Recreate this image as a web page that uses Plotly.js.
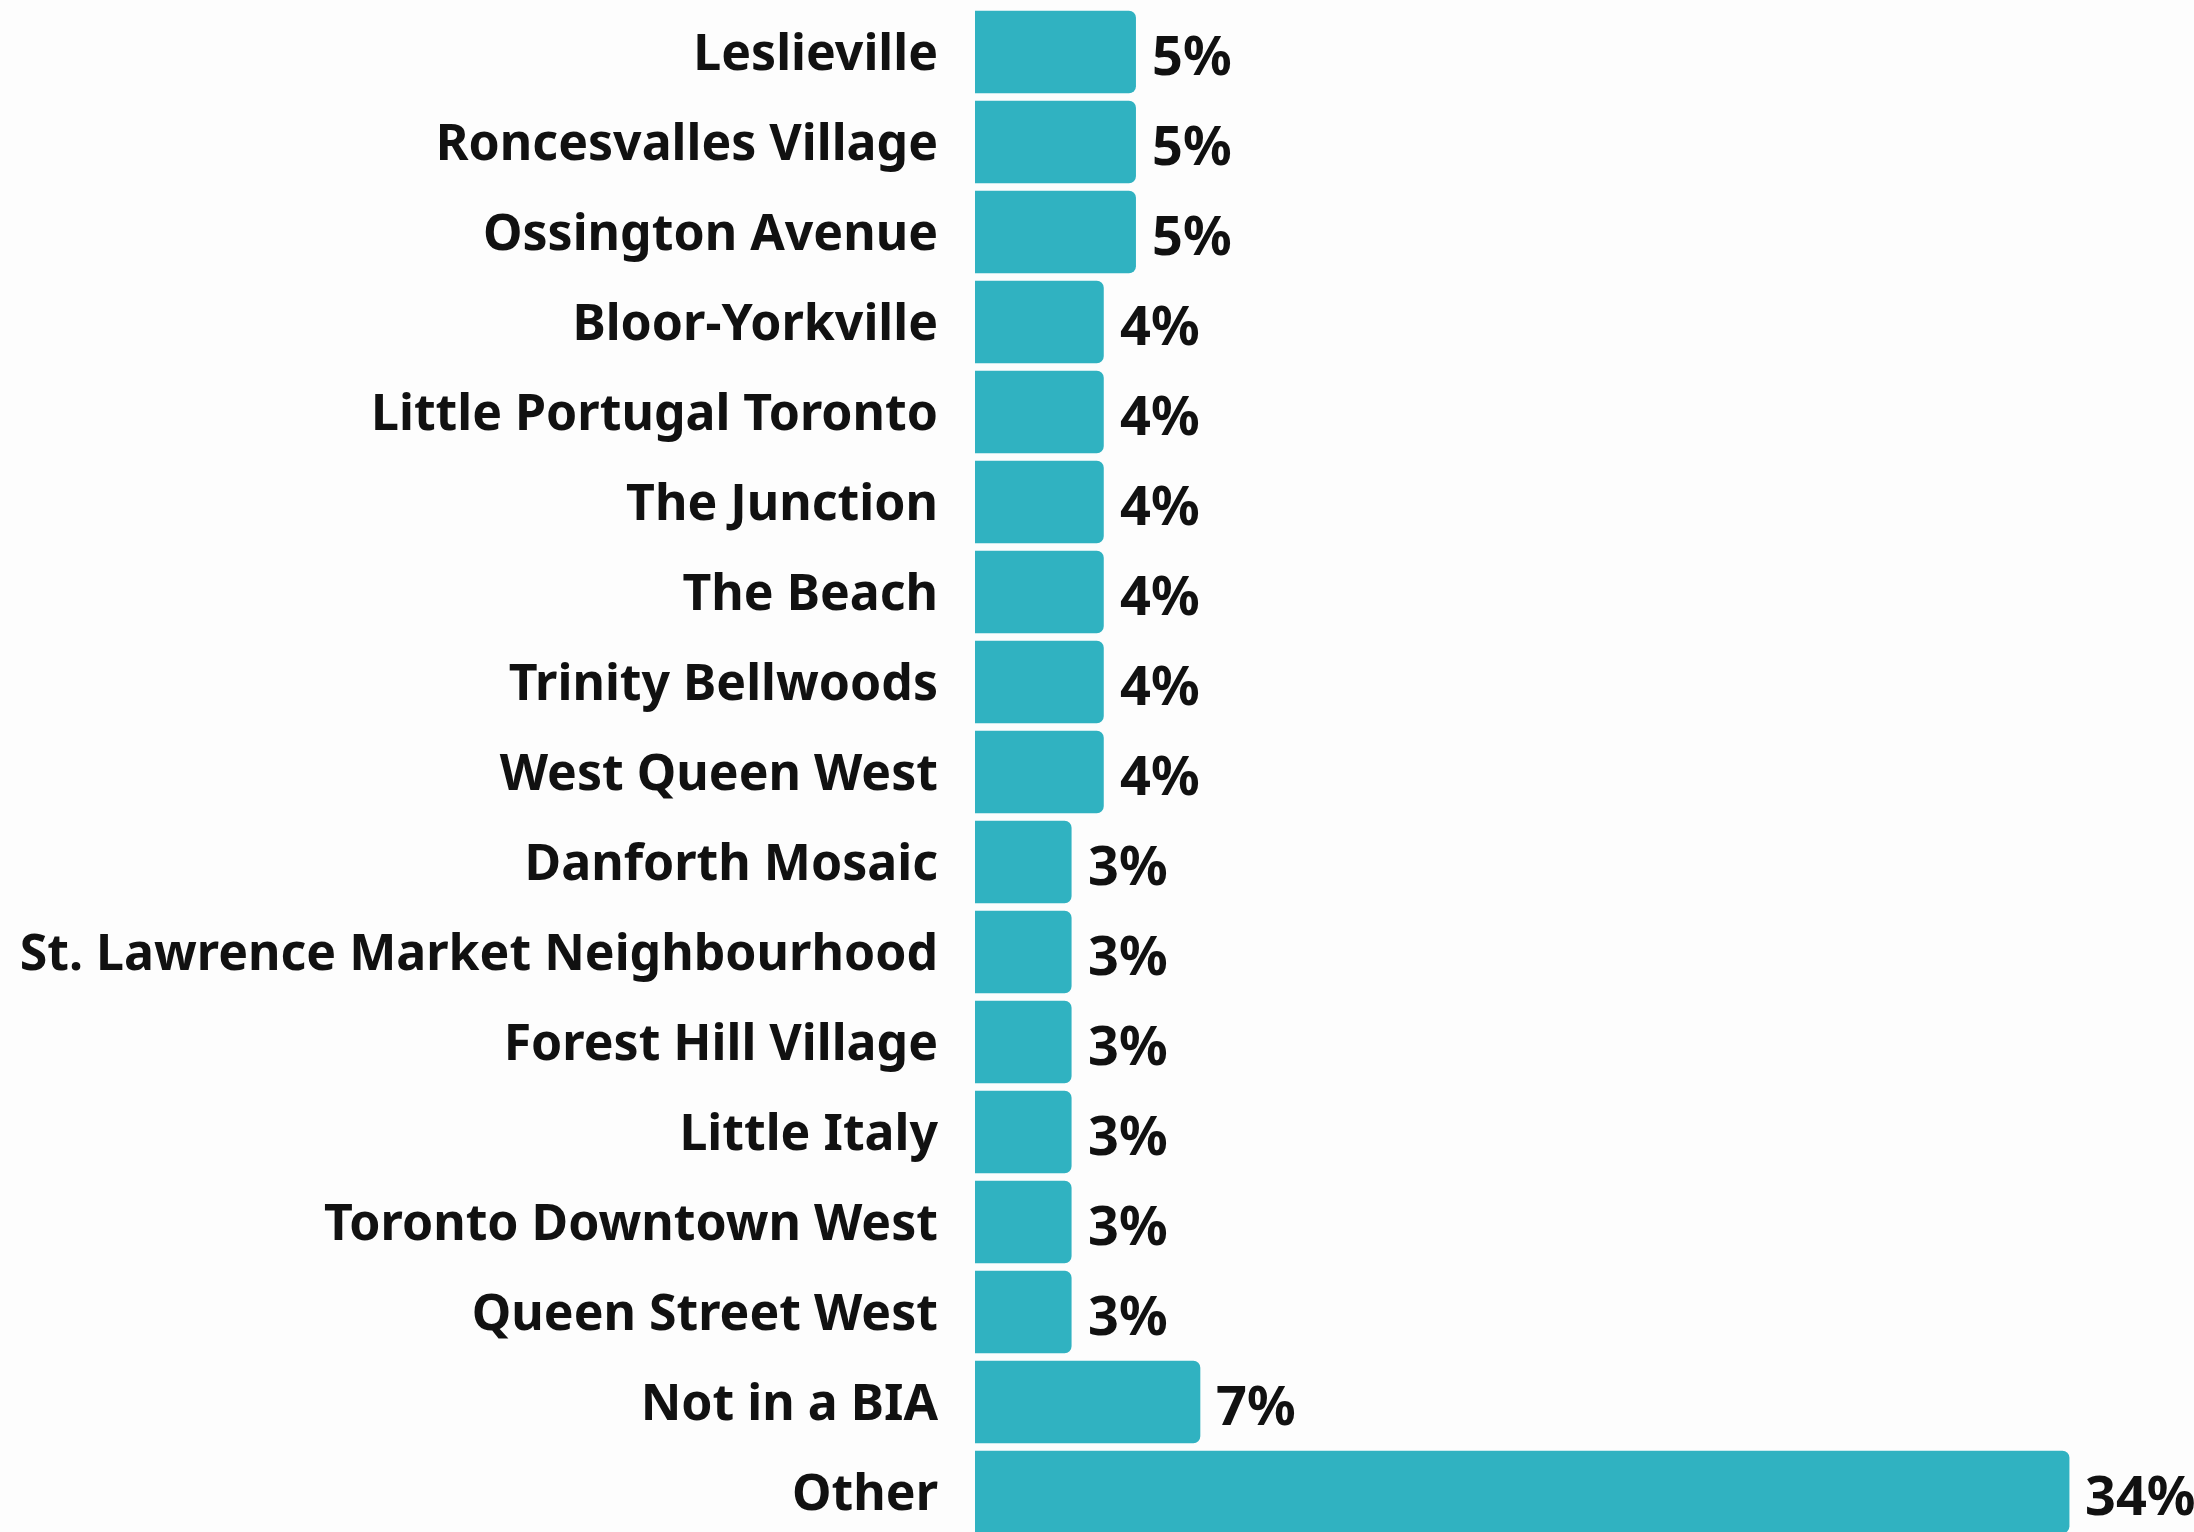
<!DOCTYPE html>
<html>
<head>
<meta charset="utf-8">
<script src="https://cdn.plot.ly/plotly-3.0.1.min.js"></script>
<style>html,body{margin:0;padding:0;background:#fdfdfd;}#chart{width:2194px;height:1532px;}</style>
</head>
<body>
<div id="chart"></div>
<script>
const categories = ["Leslieville","Roncesvalles Village","Ossington Avenue","Bloor-Yorkville","Little Portugal Toronto","The Junction","The Beach","Trinity Bellwoods","West Queen West","Danforth Mosaic","St. Lawrence Market Neighbourhood","Forest Hill Village","Little Italy","Toronto Downtown West","Queen Street West","Not in a BIA","Other"];
const values = [5,5,5,4,4,4,4,4,4,3,3,3,3,3,3,7,34];
const valueLabels = values.map(v => v + "%");

const trace = {
  type: "bar",
  orientation: "h",
  y: categories,
  x: values,
  marker: {color: "#30b2c1", cornerradius: 7},
  hoverinfo: "skip"
};

const annotations = categories.map((c, i) => ({
  x: values[i], y: c, xref: "x", yref: "y",
  text: valueLabels[i], showarrow: false,
  xanchor: "left", yanchor: "middle", xshift: 14, yshift: -2,
  font: {family: "Noto Sans", size: 54, color: "#111111", weight: 700}
}));

const layout = {
  width: 2194, height: 1532,
  paper_bgcolor: "#fdfdfd", plot_bgcolor: "#fdfdfd",
  margin: {l: 975, r: 28, t: 7, b: 0},
  bargap: 0.083,
  showlegend: false,
  xaxis: {range: [0, 37], visible: false, fixedrange: true},
  yaxis: {
    type: "category", range: [16.444, -0.5],
    showgrid: false, zeroline: false, showline: false, ticks: "",
    ticklabelstandoff: 36,
    tickfont: {family: "Noto Sans", size: 50, color: "#111111", weight: 700}
  },
  annotations: annotations
};

Plotly.newPlot("chart", [trace], layout, {staticPlot: true, displayModeBar: false});
</script>
</body>
</html>
